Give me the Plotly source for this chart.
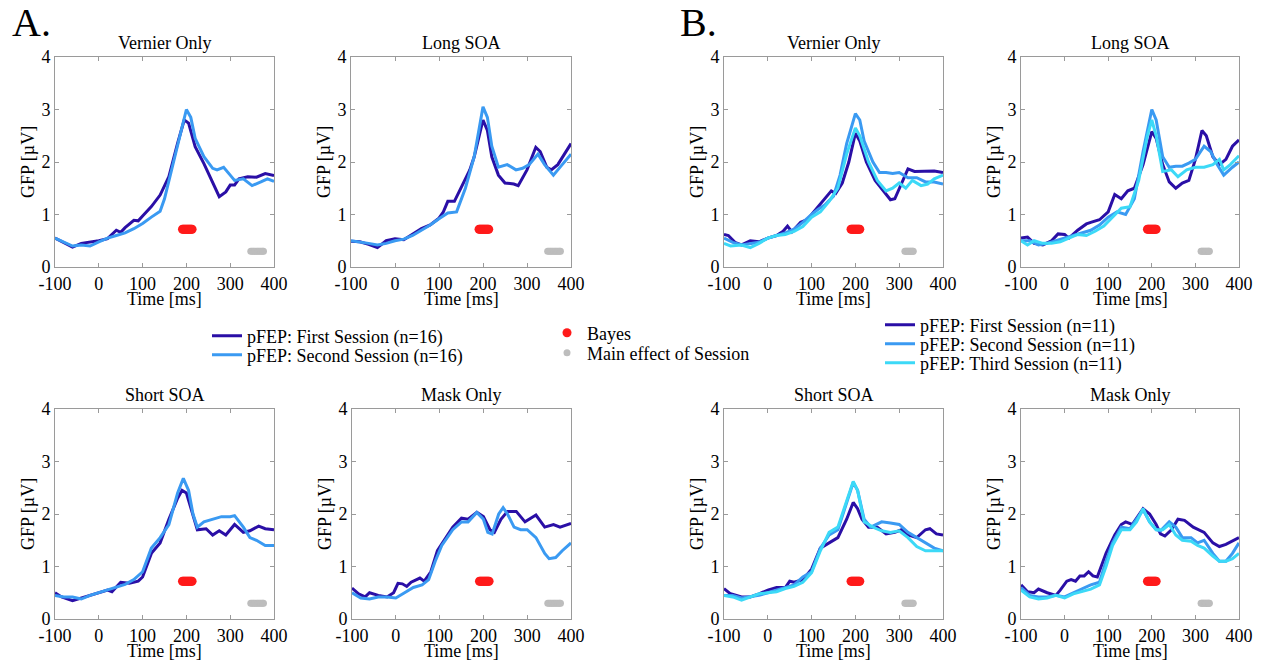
import plotly.graph_objects as go

W, H = 1265, 662
FONT = "Liberation Serif"

# ---------------- data (time in ms, GFP in microvolt) ----------------
# Experiment A (two sessions, n=16)
A_vernier_first = [(-100,0.55),(-80,0.46),(-60,0.38),(-40,0.45),(-20,0.47),(0,0.50),(20,0.54),(40,0.70),(50,0.66),(60,0.75),(80,0.89),(90,0.88),(100,0.97),(120,1.15),(140,1.37),(160,1.72),(180,2.36),(195,2.80),(205,2.74),(220,2.29),(240,1.97),(260,1.59),(275,1.34),(290,1.43),(300,1.56),(310,1.56),(320,1.68),(340,1.72),(360,1.71),(380,1.78),(400,1.74)]
A_vernier_second = [(-100,0.55),(-80,0.47),(-60,0.40),(-40,0.42),(-20,0.40),(0,0.48),(20,0.55),(40,0.60),(60,0.65),(80,0.73),(100,0.83),(120,0.95),(140,1.06),(150,1.30),(160,1.65),(180,2.30),(200,3.00),(210,2.85),(220,2.45),(240,2.10),(260,1.88),(270,1.85),(285,1.90),(300,1.75),(310,1.65),(330,1.68),(350,1.55),(370,1.62),(385,1.68),(400,1.63)]
A_long_first = [(-100,0.49),(-80,0.48),(-60,0.43),(-40,0.37),(-20,0.50),(0,0.54),(20,0.52),(40,0.63),(60,0.73),(80,0.80),(100,0.93),(110,1.05),(120,1.25),(135,1.25),(150,1.50),(170,1.85),(180,2.10),(200,2.80),(210,2.60),(220,2.10),(235,1.75),(250,1.60),(270,1.58),(280,1.55),(300,1.85),(320,2.28),(330,2.20),(345,1.90),(355,1.85),(370,1.95),(385,2.15),(400,2.35)]
A_long_second = [(-100,0.50),(-80,0.48),(-60,0.45),(-40,0.42),(-20,0.45),(0,0.50),(20,0.53),(40,0.60),(60,0.70),(80,0.80),(100,0.92),(120,1.03),(140,1.05),(160,1.50),(180,2.10),(200,3.05),(210,2.85),(220,2.30),(235,1.90),(255,1.95),(275,1.85),(290,1.88),(305,1.95),(325,2.15),(340,1.95),(360,1.75),(380,1.95),(400,2.15)]
A_short_first = [(-100,0.50),(-85,0.42),(-60,0.35),(-40,0.40),(-20,0.45),(0,0.50),(20,0.55),(30,0.52),(50,0.70),(70,0.68),(90,0.72),(100,0.80),(120,1.25),(140,1.45),(160,1.90),(180,2.30),(190,2.45),(200,2.40),(210,2.10),(225,1.70),(245,1.72),(260,1.60),(275,1.68),(290,1.60),(310,1.80),(330,1.65),(345,1.68),(365,1.77),(380,1.72),(400,1.70)]
A_short_second = [(-100,0.45),(-80,0.42),(-60,0.42),(-40,0.38),(-20,0.45),(0,0.50),(20,0.56),(40,0.60),(60,0.66),(80,0.75),(100,0.90),(120,1.35),(140,1.55),(160,1.80),(180,2.40),(193,2.68),(205,2.45),(215,2.00),(225,1.75),(240,1.85),(260,1.90),(280,1.95),(300,1.95),(310,1.97),(330,1.75),(345,1.55),(360,1.50),(380,1.40),(400,1.40)]
A_mask_first = [(-100,0.59),(-85,0.48),(-70,0.42),(-60,0.50),(-40,0.45),(-20,0.42),(-5,0.50),(5,0.68),(15,0.67),(25,0.62),(35,0.70),(55,0.78),(65,0.72),(80,0.90),(95,1.30),(110,1.50),(130,1.75),(150,1.92),(165,1.90),(185,2.03),(200,1.95),(215,1.70),(225,1.65),(240,1.90),(255,2.05),(275,2.05),(295,1.85),(320,1.98),(340,1.75),(360,1.80),(375,1.75),(400,1.82)]
A_mask_second = [(-100,0.50),(-80,0.40),(-60,0.38),(-40,0.42),(-20,0.42),(0,0.40),(20,0.50),(40,0.60),(60,0.65),(75,0.75),(90,1.10),(105,1.40),(130,1.70),(150,1.85),(165,1.85),(185,2.03),(200,1.90),(210,1.65),(220,1.62),(235,2.00),(245,2.12),(255,2.00),(270,1.75),(285,1.70),(300,1.70),(320,1.55),(340,1.25),(350,1.15),(365,1.17),(380,1.30),(400,1.45)]

# Experiment B (three sessions, n=11)
B_vernier_first = [(-100,0.62),(-90,0.60),(-75,0.47),(-60,0.42),(-40,0.50),(-20,0.48),(0,0.55),(20,0.60),(35,0.68),(45,0.78),(55,0.67),(75,0.85),(90,0.90),(110,1.10),(130,1.30),(145,1.45),(155,1.40),(170,1.60),(185,2.00),(200,2.55),(210,2.40),(225,2.00),(245,1.65),(265,1.45),(280,1.28),(290,1.30),(305,1.60),(320,1.87),(335,1.82),(360,1.82),(380,1.83),(400,1.80)]
B_vernier_second = [(-100,0.55),(-80,0.47),(-60,0.42),(-40,0.45),(-20,0.47),(0,0.55),(20,0.60),(40,0.65),(60,0.72),(80,0.85),(100,1.00),(115,1.10),(130,1.18),(150,1.35),(165,1.75),(180,2.35),(200,2.92),(210,2.80),(220,2.40),(240,2.00),(255,1.80),(270,1.80),(285,1.78),(300,1.80),(320,1.70),(340,1.70),(360,1.62),(380,1.62),(400,1.58)]
B_vernier_third = [(-100,0.45),(-85,0.40),(-60,0.42),(-40,0.37),(-20,0.45),(0,0.55),(20,0.60),(40,0.62),(60,0.68),(80,0.77),(100,0.95),(120,1.05),(140,1.25),(160,1.50),(180,2.15),(200,2.65),(210,2.50),(230,2.00),(250,1.65),(270,1.45),(285,1.50),(300,1.60),(315,1.50),(330,1.65),(350,1.55),(365,1.58),(380,1.68),(400,1.75)]
B_long_first = [(-100,0.55),(-85,0.57),(-70,0.45),(-50,0.42),(-30,0.50),(-15,0.63),(0,0.62),(10,0.55),(30,0.70),(50,0.82),(60,0.85),(80,0.90),(100,1.05),(115,1.38),(130,1.30),(145,1.45),(160,1.50),(180,1.95),(200,2.58),(210,2.45),(225,1.95),(240,1.62),(255,1.50),(270,1.60),(285,1.65),(300,2.05),(315,2.60),(325,2.50),(340,2.10),(355,1.95),(370,2.05),(385,2.30),(400,2.42)]
B_long_second = [(-100,0.50),(-80,0.50),(-60,0.42),(-40,0.45),(-20,0.50),(0,0.55),(20,0.60),(40,0.65),(60,0.70),(80,0.80),(100,0.95),(120,1.05),(140,1.00),(160,1.30),(180,2.20),(200,3.00),(210,2.80),(225,2.10),(240,1.90),(255,1.92),(270,1.92),(285,1.98),(300,2.05),(320,2.30),(335,2.20),(350,1.95),(365,1.75),(385,1.90),(400,2.00)]
B_long_third = [(-100,0.50),(-85,0.42),(-70,0.50),(-50,0.45),(-30,0.45),(-10,0.48),(10,0.55),(30,0.62),(50,0.60),(70,0.68),(90,0.78),(110,0.95),(130,1.12),(150,1.15),(170,1.65),(190,2.50),(200,2.80),(210,2.50),(225,1.82),(245,1.85),(260,1.72),(280,1.85),(300,1.90),(320,1.90),(340,1.95),(355,2.05),(365,1.85),(380,1.95),(400,2.12)]
B_short_first = [(-100,0.58),(-85,0.48),(-60,0.42),(-40,0.42),(-20,0.48),(0,0.55),(20,0.60),(40,0.60),(50,0.72),(60,0.70),(80,0.75),(100,0.95),(120,1.35),(140,1.45),(160,1.55),(180,1.90),(195,2.22),(205,2.10),(215,1.90),(230,1.75),(250,1.75),(270,1.62),(290,1.65),(305,1.70),(320,1.60),(340,1.55),(360,1.70),(370,1.72),(385,1.62),(400,1.60)]
B_short_second = [(-100,0.45),(-80,0.45),(-60,0.40),(-40,0.42),(-20,0.45),(0,0.50),(20,0.55),(40,0.60),(60,0.65),(80,0.80),(100,0.90),(120,1.35),(140,1.60),(160,1.70),(180,2.20),(195,2.60),(205,2.45),(220,1.90),(235,1.75),(260,1.85),(280,1.83),(300,1.80),(320,1.65),(340,1.55),(360,1.45),(380,1.35),(400,1.30)]
B_short_third = [(-100,0.45),(-80,0.42),(-60,0.36),(-40,0.42),(-20,0.48),(0,0.50),(20,0.52),(40,0.58),(60,0.62),(80,0.70),(100,0.88),(120,1.30),(140,1.65),(160,1.75),(180,2.25),(195,2.62),(205,2.45),(220,1.85),(240,1.75),(260,1.68),(280,1.65),(300,1.68),(320,1.55),(340,1.38),(360,1.30),(380,1.30),(400,1.30)]
B_mask_first = [(-100,0.65),(-85,0.52),(-70,0.50),(-60,0.57),(-40,0.50),(-20,0.45),(-10,0.55),(5,0.72),(15,0.75),(25,0.72),(35,0.82),(45,0.82),(55,0.90),(65,0.82),(75,0.80),(95,1.25),(115,1.60),(130,1.80),(140,1.85),(155,1.80),(180,2.10),(195,2.00),(210,1.80),(220,1.62),(230,1.58),(245,1.70),(260,1.90),(275,1.88),(295,1.75),(320,1.65),(340,1.45),(355,1.38),(370,1.42),(385,1.48),(400,1.55)]
B_mask_second = [(-100,0.60),(-80,0.45),(-60,0.42),(-40,0.42),(-20,0.45),(0,0.42),(20,0.50),(40,0.58),(60,0.65),(80,0.70),(95,1.10),(110,1.45),(130,1.75),(150,1.72),(165,1.90),(180,2.08),(195,1.85),(210,1.70),(220,1.68),(240,1.85),(255,1.75),(270,1.55),(290,1.55),(305,1.45),(320,1.50),(340,1.25),(355,1.10),(370,1.10),(385,1.25),(400,1.45)]
B_mask_third = [(-100,0.55),(-80,0.42),(-60,0.38),(-40,0.40),(-20,0.45),(0,0.40),(20,0.48),(40,0.52),(60,0.57),(80,0.65),(95,1.00),(110,1.40),(130,1.70),(150,1.70),(165,1.85),(180,2.10),(195,1.85),(210,1.70),(225,1.70),(240,1.80),(255,1.60),(270,1.50),(290,1.48),(305,1.40),(320,1.35),(340,1.20),(355,1.10),(370,1.10),(385,1.15),(400,1.25)]

# significant time points (ms)
bayes_times_A = [191, 193, 195, 197, 199, 201, 203, 205, 207, 209, 211, 213]
bayes_times_B = [190, 192, 194, 196, 198, 200, 202, 204, 206, 208, 210]
session_times_A = [347, 350, 353, 356, 359, 362, 365, 368, 371, 374, 376]
session_times_B = [313, 315, 317, 319, 321, 323, 325, 327, 329, 331, 332]
bayes_level = 0.72
session_level = 0.30

titles = ["Vernier Only", "Long SOA", "Short SOA", "Mask Only"]
x_ticks = [-100, 0, 100, 200, 300, 400]
x_tick_labels = ["-100", "0", "100", "200", "300", "400"]
y_ticks = [0, 1, 2, 3, 4]
legend_A = ["pFEP: First Session (n=16)", "pFEP: Second Session (n=16)"]
legend_B = ["pFEP: First Session (n=11)", "pFEP: Second Session (n=11)", "pFEP: Third Session (n=11)"]
legend_stats = ["Bayes", "Main effect of Session"]

# ---------------- styling ----------------
C1, C2, C3 = "#2A0FA6", "#3A9AF2", "#3CD9F7"
RED, GRAY = "#FF1A1A", "#BDBDBD"
FRAME = "#9A9A9A"
FS = 18


def F(size=FS):
    return dict(family=FONT, size=size, color="black")


# panel pixel boxes: (x0, x1), (ytop, ybottom)
boxes = [
    ((55, 274), (57, 267)), ((351, 571), (57, 267)),
    ((55, 274), (409, 619)), ((352, 571), (409, 619)),
    ((724, 943), (57, 267)), ((1021, 1239), (57, 267)),
    ((724, 943), (409, 619)), ((1021, 1239), (409, 619)),
]
panel_series = [
    [A_vernier_first, A_vernier_second],
    [A_long_first, A_long_second],
    [A_short_first, A_short_second],
    [A_mask_first, A_mask_second],
    [B_vernier_first, B_vernier_second, B_vernier_third],
    [B_long_first, B_long_second, B_long_third],
    [B_short_first, B_short_second, B_short_third],
    [B_mask_first, B_mask_second, B_mask_third],
]
colors = [C1, C2, C3]

# one legend box per entry: (legend id, left px, row-centre px)
legend_slots_A = [("legend", 207, 336), ("legend2", 207, 355)]
legend_slots_B = [("legend5", 880, 325), ("legend6", 880, 344), ("legend7", 880, 363)]
legend_slots_stats = [("legend3", 547, 333), ("legend4", 547, 353)]


def px(x):
    return x / W


def py(y):
    return 1 - y / H


fig = go.Figure()
layout = dict(
    template="none",
    width=W, height=H, margin=dict(l=0, r=0, t=0, b=0, autoexpand=False),
    paper_bgcolor="white", plot_bgcolor="white",
    font=F(), showlegend=True,
)
annotations = []

for i, ((x0, x1), (yt, yb)) in enumerate(boxes):
    n = i + 1
    sfx = "" if n == 1 else str(n)
    xa, ya = "x" + sfx, "y" + sfx
    common = dict(ticks="inside", ticklen=4, tickcolor=FRAME, showline=True, linecolor=FRAME,
                  linewidth=1, mirror="ticks", showgrid=False, zeroline=False,
                  tickfont=F(), automargin=False)
    layout["xaxis" + sfx] = dict(domain=[px(x0), px(x1)], anchor=ya, range=[-100, 400],
                                 tickvals=x_ticks, ticktext=x_tick_labels, **common)
    layout["yaxis" + sfx] = dict(domain=[py(yb), py(yt)], anchor=xa, range=[0, 4],
                                 tickvals=y_ticks, **common)
    isB = i >= 4
    first = (i == 0 or i == 4)
    for k, ser in enumerate(panel_series[i]):
        labels = legend_B if isB else legend_A
        slots = legend_slots_B if isB else legend_slots_A
        fig.add_trace(go.Scatter(
            x=[p[0] for p in ser], y=[p[1] for p in ser], mode="lines",
            line=dict(color=colors[k], width=3), xaxis=xa, yaxis=ya,
            name=labels[k], showlegend=first, legend=slots[k][0],
        ))
    bt = bayes_times_B if isB else bayes_times_A
    st = session_times_B if isB else session_times_A
    fig.add_trace(go.Scatter(
        x=bt, y=[bayes_level] * len(bt), mode="markers",
        marker=dict(color=RED, size=9, line=dict(width=0)),
        xaxis=xa, yaxis=ya, name=legend_stats[0], showlegend=(i == 0), legend=legend_slots_stats[0][0],
    ))
    fig.add_trace(go.Scatter(
        x=st, y=[session_level] * len(st), mode="markers",
        marker=dict(color=GRAY, size=7, line=dict(width=0)),
        xaxis=xa, yaxis=ya, name=legend_stats[1], showlegend=(i == 0), legend=legend_slots_stats[1][0],
    ))
    cx = (x0 + x1) / 2
    annotations.append(dict(text=titles[i % 4], x=px(cx), y=py(yt - 14), xref="paper", yref="paper",
                            showarrow=False, font=F(), xanchor="center", yanchor="middle"))
    annotations.append(dict(text="Time [ms]", x=px(cx), y=py(yb + 32), xref="paper", yref="paper",
                            showarrow=False, font=F(), xanchor="center", yanchor="middle"))
    annotations.append(dict(text="GFP [µV]", x=px(x0 - 27), y=py((yt + yb) / 2), xref="paper", yref="paper",
                            showarrow=False, font=F(), textangle=-90, xanchor="center", yanchor="middle"))

annotations.append(dict(text="A.", x=px(10), y=py(22), xref="paper", yref="paper", showarrow=False,
                        font=F(40), xanchor="left", yanchor="middle"))
annotations.append(dict(text="B.", x=px(678), y=py(22), xref="paper", yref="paper", showarrow=False,
                        font=F(40), xanchor="left", yanchor="middle"))
layout["annotations"] = annotations

leg_common = dict(bgcolor="rgba(0,0,0,0)", borderwidth=0, font=F(), tracegroupgap=0, itemwidth=30,
                  xanchor="left", yanchor="middle", itemsizing="trace")
for slot_list in (legend_slots_A, legend_slots_B, legend_slots_stats):
    for lid, lx, ly in slot_list:
        layout[lid] = dict(x=px(lx), y=py(ly), **leg_common)

fig.update_layout(**layout)
fig.write_html("out.html")
